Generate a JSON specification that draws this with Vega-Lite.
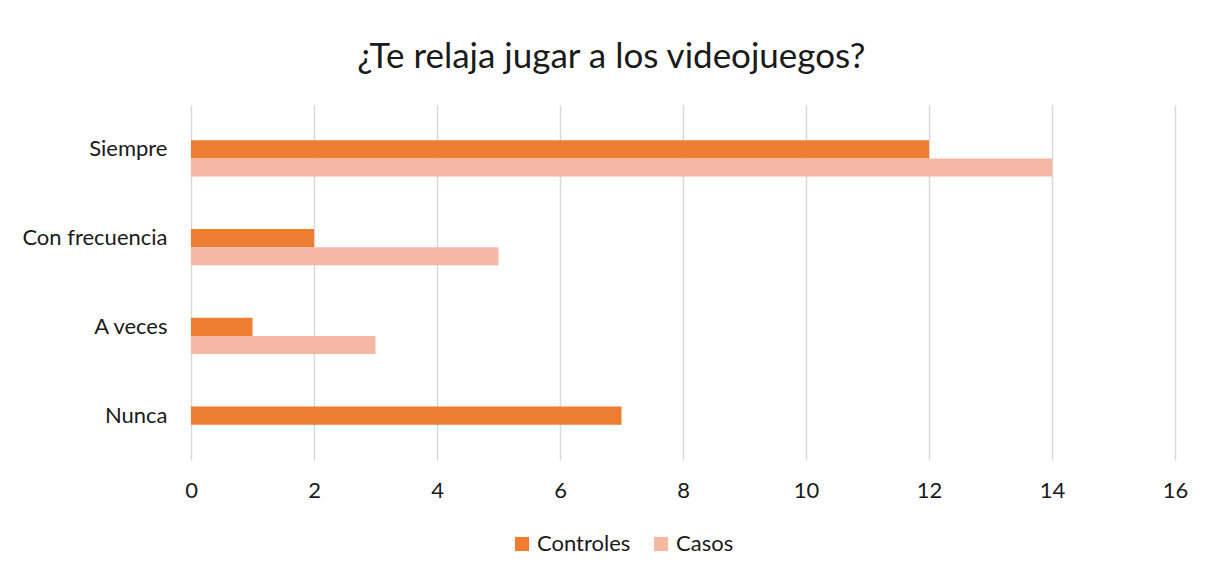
{
  "$schema": "https://vega.github.io/schema/vega-lite/v6.json",
  "width": 984,
  "height": 355,
  "padding": {"left": 11, "top": 40, "right": 20, "bottom": 10},
  "background": "white",
  "title": {
    "text": "¿Te relaja jugar a los videojuegos?",
    "font": "Lato",
    "fontSize": 35,
    "fontWeight": "normal",
    "color": "#1a1a1a",
    "anchor": "middle",
    "frame": "bounds",
    "dx": 12,
    "offset": 30
  },
  "data": {
    "values": [
      {"respuesta": "Siempre", "grupo": "Controles", "valor": 12},
      {"respuesta": "Siempre", "grupo": "Casos", "valor": 14},
      {"respuesta": "Con frecuencia", "grupo": "Controles", "valor": 2},
      {"respuesta": "Con frecuencia", "grupo": "Casos", "valor": 5},
      {"respuesta": "A veces", "grupo": "Controles", "valor": 1},
      {"respuesta": "A veces", "grupo": "Casos", "valor": 3},
      {"respuesta": "Nunca", "grupo": "Controles", "valor": 7},
      {"respuesta": "Nunca", "grupo": "Casos", "valor": 0}
    ]
  },
  "mark": {"type": "bar"},
  "encoding": {
    "y": {
      "field": "respuesta",
      "type": "nominal",
      "sort": ["Siempre", "Con frecuencia", "A veces", "Nunca"],
      "scale": {"paddingInner": 0, "paddingOuter": 0},
      "axis": {
        "title": null,
        "domain": false,
        "ticks": false,
        "grid": false,
        "labelFont": "Lato",
        "labelFontSize": 22,
        "labelColor": "#1a1a1a",
        "labelPadding": 24,
        "minExtent": 180,
        "maxExtent": 180
      }
    },
    "yOffset": {
      "field": "grupo",
      "type": "nominal",
      "scale": {"domain": ["vacio", "Controles", "Casos"], "paddingInner": 0, "paddingOuter": 0.965}
    },
    "x": {
      "field": "valor",
      "type": "quantitative",
      "scale": {"domain": [0, 16], "nice": false},
      "axis": {
        "title": null,
        "values": [0, 2, 4, 6, 8, 10, 12, 14, 16],
        "domain": false,
        "ticks": false,
        "grid": true,
        "gridColor": "#d9d9d9",
        "gridWidth": 1.5,
        "labelFlush": false,
        "labelFont": "Lato",
        "labelFontSize": 22,
        "labelColor": "#1a1a1a",
        "labelPadding": 20
      }
    },
    "color": {
      "field": "grupo",
      "type": "nominal",
      "scale": {"domain": ["Controles", "Casos"], "range": ["#ED7D31", "#F4B8A4"]},
      "legend": {
        "title": null,
        "orient": "none",
        "legendX": 320,
        "legendY": 428,
        "direction": "horizontal",
        "symbolType": "square",
        "symbolSize": 200,
        "symbolStrokeWidth": 0,
        "labelFont": "Lato",
        "labelFontSize": 22,
        "labelColor": "#1a1a1a",
        "labelOffset": 4,
        "columnPadding": 19
      }
    }
  },
  "config": {
    "view": {"stroke": null}
  }
}
